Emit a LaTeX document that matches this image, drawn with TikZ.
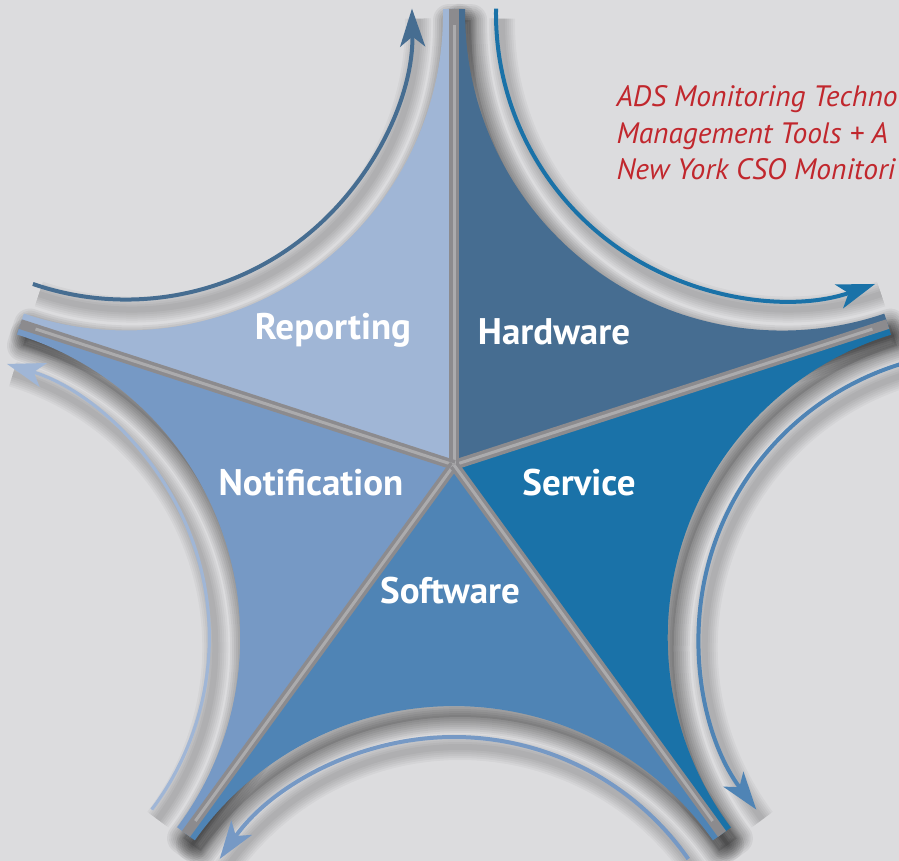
\documentclass[tikz,border=0pt]{standalone}
\usepackage{fontspec}
\setmainfont{PT Sans}
\usepackage{tikz}
\usetikzlibrary{arrows.meta}

\definecolor{bgGray}{HTML}{DCDCDE}
\definecolor{repBlue}{HTML}{A0B6D6}
\definecolor{hwBlue}{HTML}{466D91}
\definecolor{svcBlue}{HTML}{1A72A8}
\definecolor{swBlue}{HTML}{4F84B5}
\definecolor{notBlue}{HTML}{7699C5}
\definecolor{spokeGray}{HTML}{8C8B8E}
\definecolor{spokeLight}{HTML}{ABABAD}
\definecolor{adsRed}{HTML}{C1272D}

% one blade of the star, around bisector angle #1
\newcommand{\bladepath}[1]{(0,0) -- (#1+36:456) -- (#1+34.6:456)
  arc[start angle=#1+125.2, end angle=#1+234.8, radius=317] -- (#1-36:456) -- cycle}

\begin{document}
\begin{tikzpicture}[x=1pt,y=1pt,
    seglabel/.style={text=white, font=\fontsize{37}{44}\selectfont\bfseries},
    adstext/.style={anchor=base west, text=adsRed, font=\fontsize{29.5}{34}\selectfont\itshape},
    cyclearrow/.style={line width=4, -{Stealth[length=38, width=25, inset=10]}},
    softshadow/.style={black, opacity=0.05, line join=round}]

\useasboundingbox (0,0) rectangle (899,861);
\clip (0,0) rectangle (899,861);
\fill[bgGray] (0,0) rectangle (899,861);

\begin{scope}[shift={(454,396)}]
\coordinate (O) at (0,0);

% shadows of the blades
\begin{scope}[shift={(6,-11)}]
\foreach \b in {54,126,198,270,342} {
  \fill[black, opacity=0.1] \bladepath{\b};
  \foreach \w in {4,8,...,32}
    \draw[softshadow, line width=\w] \bladepath{\b};
}
\end{scope}

% shadows of the arrows
\begin{scope}[shift={(6,-10)}]
\foreach \b in {54,126,198,270,342} {
  \pgfmathsetmacro\sx{558*cos(\b)+286*cos(\b+125)}
  \pgfmathsetmacro\sy{558*sin(\b)+286*sin(\b+125)}
  \foreach \w in {6,10,...,26}
    \draw[softshadow, opacity=0.035, line width=\w] (\sx,\sy) arc[start angle=\b+125, end angle=\b+235, radius=286];
}
\end{scope}

% blades
\foreach \b/\col in {54/hwBlue, 126/repBlue, 198/notBlue, 270/swBlue, 342/svcBlue}
  \fill[\col] \bladepath{\b};

% spokes between blades
\foreach \a in {18,90,162,234,306} {
  \draw[spokeGray, line width=10] (O) -- (\a:456);
  \draw[spokeLight, line width=3] (O) -- (\a:440);
}

% cycle arrows
\foreach \b/\col/\wd in {54/svcBlue/4, 126/hwBlue/4, 198/repBlue/3.2, 270/notBlue/4, 342/swBlue/4} {
  \pgfmathsetmacro\sx{558*cos(\b)+286*cos(\b+125)}
  \pgfmathsetmacro\sy{558*sin(\b)+286*sin(\b+125)}
  \draw[cyclearrow, \col, line width=\wd] (\sx,\sy) arc[start angle=\b+125, end angle=\b+235, radius=286];
}
\end{scope}

% labels
\node[seglabel] (reporting)    at (333,531) {Reporting};
\node[seglabel] (hardware)     at (554,529) {Hardware};
\node[seglabel] (notification) at (311,378) {Notification};
\node[seglabel] (service)      at (579,378) {Service};
\node[seglabel] (software)     at (450,270) {Software};

\node[adstext] (ads1) at (613,754) {ADS Monitoring Techno};
\node[adstext] (ads2) at (613,717) {Management Tools + A};
\node[adstext] (ads3) at (613,681) {New York CSO Monitori};

\end{tikzpicture}
\end{document}
